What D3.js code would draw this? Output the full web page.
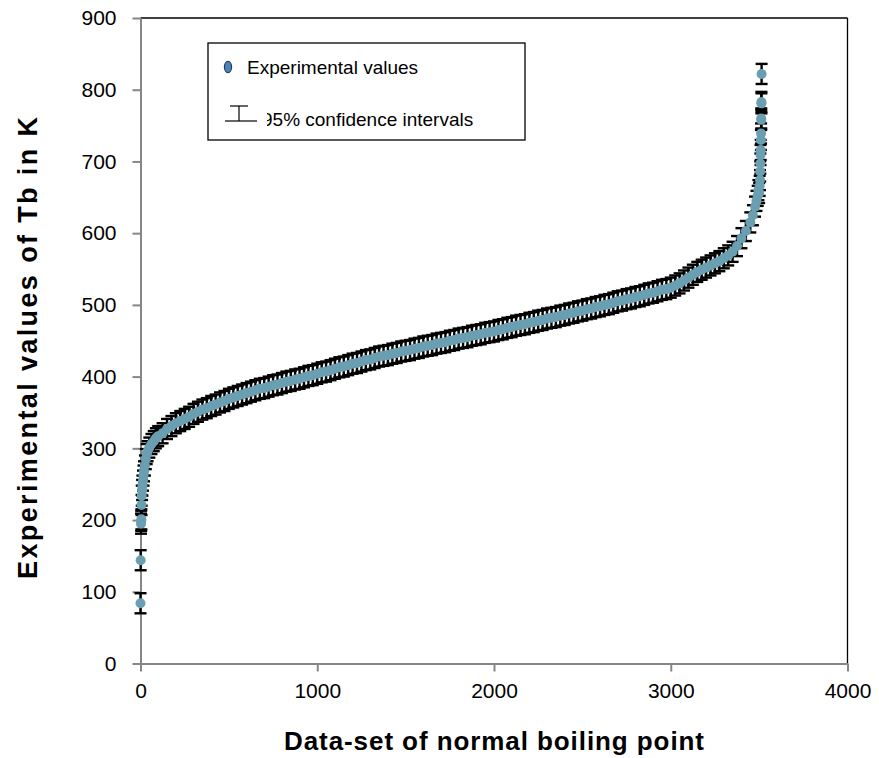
<!DOCTYPE html>
<html>
<head>
<meta charset="utf-8">
<script src="https://cdn.jsdelivr.net/npm/d3@7"></script>
<style>
  body { margin: 0; background: #fff; }
  svg { display: block; font-family: "Liberation Sans", Arial, sans-serif; }
</style>
</head>
<body>
<svg id="canvas" width="879" height="758"></svg>
<script>
// data points: compound index (sorted) and Tb in K
const pointIndex = [
  0, 1, 3, 4, 5, 6, 7, 9, 11, 14, 17, 20, 25, 30, 35, 40, 50, 62, 75, 87, 100,
  125, 150, 175, 200, 225, 250, 275, 300, 325, 350, 375, 400, 425, 450, 475,
  500, 525, 550, 575, 600, 625, 650, 675, 700, 725, 750, 775, 800, 825, 850,
  875, 900, 925, 950, 975, 1000, 1025, 1050, 1075, 1100, 1125, 1150, 1175, 1200,
  1225, 1250, 1275, 1300, 1325, 1350, 1375, 1400, 1425, 1450, 1475, 1500, 1525,
  1550, 1575, 1600, 1625, 1650, 1675, 1700, 1725, 1750, 1775, 1800, 1825, 1850,
  1875, 1900, 1925, 1950, 1975, 2000, 2025, 2050, 2075, 2100, 2125, 2150, 2175,
  2200, 2225, 2250, 2275, 2300, 2325, 2350, 2375, 2400, 2425, 2450, 2475, 2500,
  2525, 2550, 2575, 2600, 2625, 2650, 2675, 2700, 2725, 2750, 2775, 2800, 2825,
  2850, 2875, 2900, 2925, 2950, 2975, 3000, 3025, 3050, 3075, 3100, 3125, 3150,
  3175, 3200, 3225, 3250, 3275, 3300, 3325, 3350, 3375, 3400, 3425, 3450, 3465,
  3477, 3485, 3492, 3496, 3500, 3503, 3505, 3506, 3507, 3508, 3509, 3510, 3511,
  3512, 3512, 3513, 3513, 3514
];
const tbValues = [
  84, 144, 195, 199, 201, 221, 234, 242, 248, 255, 262, 268, 276, 285, 292, 296, 301, 306, 310, 314, 317,
  321, 327, 331, 335, 338, 341, 344, 348, 351, 354, 356, 359, 361, 364, 366,
  369, 371, 373, 375, 377, 379, 381, 383, 384, 386, 388, 389, 391, 393, 394,
  396, 397, 399, 401, 402, 404, 406, 407, 409, 411, 413, 414, 416, 418,
  419, 421, 423, 424, 426, 428, 429, 430, 432, 433, 435, 436, 437,
  439, 440, 442, 443, 444, 446, 447, 448, 450, 451, 453, 454, 455,
  457, 458, 459, 461, 462, 463, 465, 466, 468, 469, 471, 472, 473,
  475, 476, 478, 479, 481, 482, 483, 485, 486, 488, 489, 491, 492,
  494, 495, 497, 498, 500, 501, 503, 505, 506, 508, 509, 511, 512,
  514, 516, 517, 519, 521, 522, 524, 527, 530, 534, 538, 542, 546,
  549, 552, 555, 558, 561, 565, 569, 574, 582, 593, 603, 615, 625,
  637, 645, 652, 660, 656, 666, 674, 686, 697, 709, 716, 730, 739,
  758, 760, 781, 783, 822
];
// half width of the 95% confidence interval, K
const ciHalf = 14;

const xTicks = [0, 1000, 2000, 3000, 4000];
const yTicks = [0, 100, 200, 300, 400, 500, 600, 700, 800, 900];
const legendLabels = ["Experimental values", "95% confidence intervals"];

const points = pointIndex.map((d, i) => ({ n: d, tb: tbValues[i] }));

const svg = d3.select("#canvas");

const x = d3.scaleLinear().domain([0, 4000]).range([140.5, 847.5]);
const y = d3.scaleLinear().domain([0, 900]).range([663.5, 18]);

// frame: top and right borders black
svg.append("line")
  .attr("x1", x(0)).attr("x2", x(4000))
  .attr("y1", y(900)).attr("y2", y(900))
  .attr("stroke", "#000").attr("stroke-width", 1.3);
svg.append("line")
  .attr("x1", x(4000)).attr("x2", x(4000))
  .attr("y1", y(900)).attr("y2", y(0))
  .attr("stroke", "#000").attr("stroke-width", 1.3);

// axes
const xAxis = svg.append("g")
  .attr("transform", `translate(0, ${y(0)})`)
  .call(d3.axisBottom(x).tickValues(xTicks).tickFormat(d3.format("d"))
    .tickSize(8).tickPadding(12).tickSizeOuter(0));
const yAxis = svg.append("g")
  .attr("transform", `translate(${x(0)}, 0)`)
  .call(d3.axisLeft(y).tickValues(yTicks).tickFormat(d3.format("d"))
    .tickSize(8).tickPadding(16).tickSizeOuter(0));

[xAxis, yAxis].forEach(a => {
  a.select(".domain").attr("stroke", "#868686").attr("stroke-width", 2);
  a.selectAll(".tick line").attr("stroke", "#868686").attr("stroke-width", 2);
  a.selectAll(".tick text")
    .attr("fill", "#000")
    .attr("font-size", "21px")
    .attr("font-family", "Liberation Sans, Arial, sans-serif");
});

// error bars
const bars = svg.append("g").attr("stroke", "#000").attr("stroke-width", 2.4);
points.forEach(p => {
  const cx = x(p.n);
  bars.append("line")
    .attr("x1", cx).attr("x2", cx)
    .attr("y1", y(p.tb - ciHalf)).attr("y2", y(p.tb + ciHalf));
  bars.append("line")
    .attr("x1", cx - 6).attr("x2", cx + 6)
    .attr("y1", y(p.tb - ciHalf)).attr("y2", y(p.tb - ciHalf));
  bars.append("line")
    .attr("x1", cx - 6).attr("x2", cx + 6)
    .attr("y1", y(p.tb + ciHalf)).attr("y2", y(p.tb + ciHalf));
});

// markers
svg.append("g")
  .selectAll("circle")
  .data(points)
  .join("circle")
  .attr("cx", d => x(d.n))
  .attr("cy", d => y(d.tb))
  .attr("r", 5)
  .attr("fill", "#6a9fb2");

// legend
const legend = svg.append("g");
legend.append("rect")
  .attr("x", 208).attr("y", 43)
  .attr("width", 317).attr("height", 97)
  .attr("fill", "#fff").attr("stroke", "#000").attr("stroke-width", 1.3);
legend.append("ellipse")
  .attr("cx", 228).attr("cy", 67).attr("rx", 3.6).attr("ry", 5.6)
  .attr("fill", "#4f81bd").attr("stroke", "#1f3b5e").attr("stroke-width", 1.2);
legend.append("text")
  .attr("x", 247).attr("y", 67)
  .attr("dominant-baseline", "central")
  .attr("font-size", "19px")
  .text(legendLabels[0]);

const sym = legend.append("g").attr("stroke", "#000").attr("stroke-width", 1.2);
sym.append("line").attr("x1", 230).attr("x2", 248).attr("y1", 106).attr("y2", 106);
sym.append("line").attr("x1", 239).attr("x2", 239).attr("y1", 106).attr("y2", 121);
sym.append("line").attr("x1", 225).attr("x2", 257).attr("y1", 121).attr("y2", 121);

svg.append("clipPath").attr("id", "legendClip")
  .append("rect").attr("x", 267).attr("y", 90).attr("width", 250).attr("height", 45);
legend.append("text")
  .attr("x", 262).attr("y", 119)
  .attr("dominant-baseline", "central")
  .attr("font-size", "19px")
  .attr("clip-path", "url(#legendClip)")
  .text(legendLabels[1]);

// axis titles
svg.append("text")
  .attr("x", 494).attr("y", 741)
  .attr("text-anchor", "middle")
  .attr("dominant-baseline", "central")
  .attr("font-size", "26px")
  .attr("font-weight", "bold")
  .attr("textLength", 420)
  .attr("lengthAdjust", "spacing")
  .text("Data-set of normal boiling point");

svg.append("text")
  .attr("transform", "translate(28, 348) rotate(-90)")
  .attr("text-anchor", "middle")
  .attr("dominant-baseline", "central")
  .attr("font-size", "27px")
  .attr("font-weight", "bold")
  .attr("textLength", 462)
  .attr("lengthAdjust", "spacing")
  .text("Experimental values of Tb in K");
</script>
</body>
</html>
